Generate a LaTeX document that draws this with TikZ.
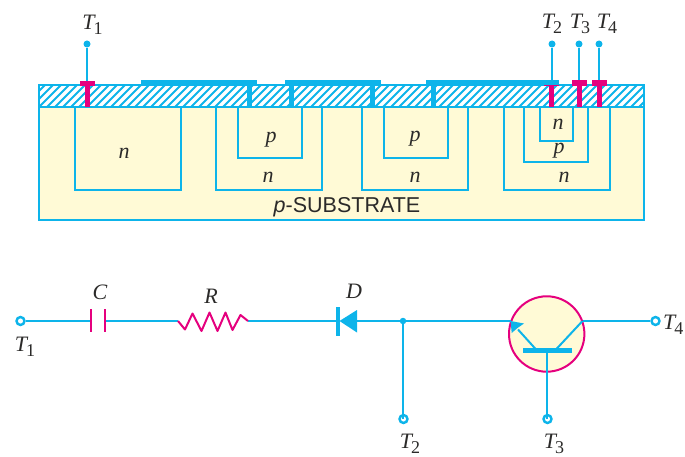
\documentclass[tikz,border=0pt]{standalone}
\usepackage{fontspec}
\setmainfont{Liberation Serif}
\setsansfont{Liberation Sans}
\usetikzlibrary{arrows.meta,calc}
\definecolor{wire}{HTML}{0DB4EA}
\definecolor{pinkc}{HTML}{E5007E}
\definecolor{creamc}{HTML}{FFFAD6}
\definecolor{inkc}{HTML}{2B2A29}
\tikzset{
  well/.style={draw=wire,line width=2pt,fill=creamc},
  plate/.style={fill=wire,draw=none},
  pinkbar/.style={fill=pinkc,draw=none},
  lead/.style={draw=wire,line width=2pt},
  pinkline/.style={draw=pinkc,line width=2pt},
  term/.style={circle,draw=wire,line width=2.4pt,fill=white,minimum size=8pt,inner sep=0pt},
  dotn/.style={circle,fill=wire,minimum size=7pt,inner sep=0pt},
  smalldot/.style={circle,fill=wire,minimum size=6.5pt,inner sep=0pt},
  lab/.style={text=inkc,font=\fontsize{22}{22}\selectfont\itshape,inner sep=0pt},
  dop/.style={text=inkc,font=\fontsize{22}{22}\selectfont\itshape,inner sep=0pt},
  sub/.style={text=inkc,font=\fontsize{21.5}{22}\sffamily,inner sep=0pt}
}
\newcommand{\Tlab}[1]{T\kern-1pt\raisebox{-5pt}{\fontsize{18}{18}\selectfont\upshape #1}}
\begin{document}
\begin{tikzpicture}[x=1pt,y=-1pt]
\useasboundingbox (0,0) rectangle (685,457);
% substrate
\draw[well] (39,107) rectangle (644,220);
% oxide with hatching
\fill[white] (39,85) rectangle (644,107);
\begin{scope}
\clip (39,85) rectangle (644,107);
\foreach \x in {20,28,...,680}{
  \draw[wire,line width=2pt] (\x,110) -- (\x+27,83);
}
\end{scope}
\draw[well,fill=none] (39,85) rectangle (644,107);
\draw[wire,line width=2pt] (39,107) -- (644,107);
% wells
\draw[well] (75,107) rectangle (181,190);
\draw[well] (216,107) rectangle (322,190);
\draw[well] (238,107) rectangle (302,158);
\draw[well] (362,107) rectangle (468,190);
\draw[well] (384,107) rectangle (448,158);
\draw[well] (504,107) rectangle (610,190);
\draw[well] (524,107) rectangle (588,162);
\draw[well] (540,107) rectangle (573,141);
% metal plates and vias
\fill[plate] (141,80) rectangle (257,86);
\fill[plate] (285,80) rectangle (381,86);
\fill[plate] (426,80) rectangle (559,86);
\fill[plate] (247,85) rectangle (252,107);
\fill[plate] (289,85) rectangle (294,107);
\fill[plate] (370,85) rectangle (375,107);
\fill[plate] (431,85) rectangle (436,107);
% terminals (top)
\node[dotn] (a1) at (87,44) {};
\node[dotn] (a2) at (552,44) {};
\node[dotn] (a3) at (579,44) {};
\node[dotn] (a4) at (599,44) {};
\coordinate (b1) at (87,82);
\coordinate (b2) at (552,82);
\coordinate (b3) at (579,82);
\coordinate (b4) at (599,82);
\draw[lead] (a1) -- (b1);
\draw[lead] (a2) -- (b2);
\draw[lead] (a3) -- (b3);
\draw[lead] (a4) -- (b4);
% pink contacts
\fill[pinkbar] (80,81) rectangle (95,86);
\fill[pinkbar] (85,85) rectangle (90,107);
\fill[pinkbar] (544,85) rectangle (559,86);
\fill[pinkbar] (549,85) rectangle (554,107);
\fill[pinkbar] (572,80) rectangle (587,86);
\fill[pinkbar] (577,85) rectangle (582,107);
\fill[pinkbar] (592,80) rectangle (607,86);
\fill[pinkbar] (597,85) rectangle (602,107);
% labels top
\node[lab] (t1) at (92.5,25) {\Tlab{1}};
\node[lab] (t2) at (552,24) {\Tlab{2}};
\node[lab] (t3) at (580,24) {\Tlab{3}};
\node[lab] (t4) at (607,24) {\Tlab{4}};
\node[dop] (n1) at (124,153) {n};
\node[dop] (n2) at (268,177) {n};
\node[dop] (p2) at (271,140) {p};
\node[dop] (n3) at (415,177) {n};
\node[dop] (p3) at (415,139) {p};
\node[dop] (n4) at (564,177) {n};
\node[dop] (n5) at (558,124) {n};
\node[dop] (p5) at (559,151) {p};
\node[sub] (subs) at (347,207) {\textit{p}-SUBSTRATE};
% circuit
\node[term] (c1) at (20.5,321) {};
\node[term] (c2) at (403.5,419) {};
\node[term] (c3) at (547.5,419) {};
\node[term] (c4) at (655.5,321) {};
\node[smalldot] (j) at (403,321) {};
\coordinate (capL) at (91,321);
\coordinate (capR) at (105,321);
\coordinate (resL) at (178,321);
\coordinate (resR) at (248,321);
\coordinate (dioL) at (339,321);
\coordinate (dioR) at (357,321);
\coordinate (em) at (510.5,321);
\coordinate (emb) at (536.5,350);
\coordinate (col) at (582.5,321);
\coordinate (colb) at (555.5,350);
\coordinate (bas) at (547,350);
% transistor circle
\draw[pinkline,fill=creamc] (546.7,334) circle (37.7);
% wires
\draw[lead] (c1) -- (capL);
\draw[lead] (capR) -- (resL);
\draw[lead] (resR) -- (dioL);
\draw[lead] (dioR) -- (j);
\draw[lead] (j) -- (em);
\draw[lead] (j) -- (c2 -| j);
\draw[lead] (col) -- (c4);
\draw[lead] (colb) -- (col);
\draw[lead] (bas) -- (c3 -| bas);
\draw[lead] (emb) -- (518,329.5);
\fill[plate] (em) -- (511.7,333) -- (517.5,328) -- (524,323.5) -- cycle;
\fill[plate] (523,348) rectangle (572,353);
% capacitor
\draw[pinkline] (91,309) -- (91,332);
\draw[pinkline] (105,309) -- (105,332);
% resistor
\draw[pinkline,line join=round] (resL) -- (185,329.5) -- (192.5,313.5) -- (201.5,331) -- (209.5,312.5) -- (217.5,331) -- (225.5,312.5) -- (232.5,330) -- (240.5,315) -- (resR);
% diode
\fill[plate] (336,307) rectangle (340,336);
\fill[plate] (339.5,321) -- (357,310) -- (357,332.5) -- cycle;
% labels circuit
\node[lab] (lc) at (100,292) {C};
\node[lab] (lr) at (211,296) {R};
\node[lab] (ld) at (354,291) {D};
\node[lab] (lt1) at (25,347) {\Tlab{1}};
\node[lab] (lt2) at (410,444) {\Tlab{2}};
\node[lab] (lt3) at (554,444) {\Tlab{3}};
\node[lab,anchor=west] (lt4) at (663,325) {\Tlab{4}};
\end{tikzpicture}
\end{document}
